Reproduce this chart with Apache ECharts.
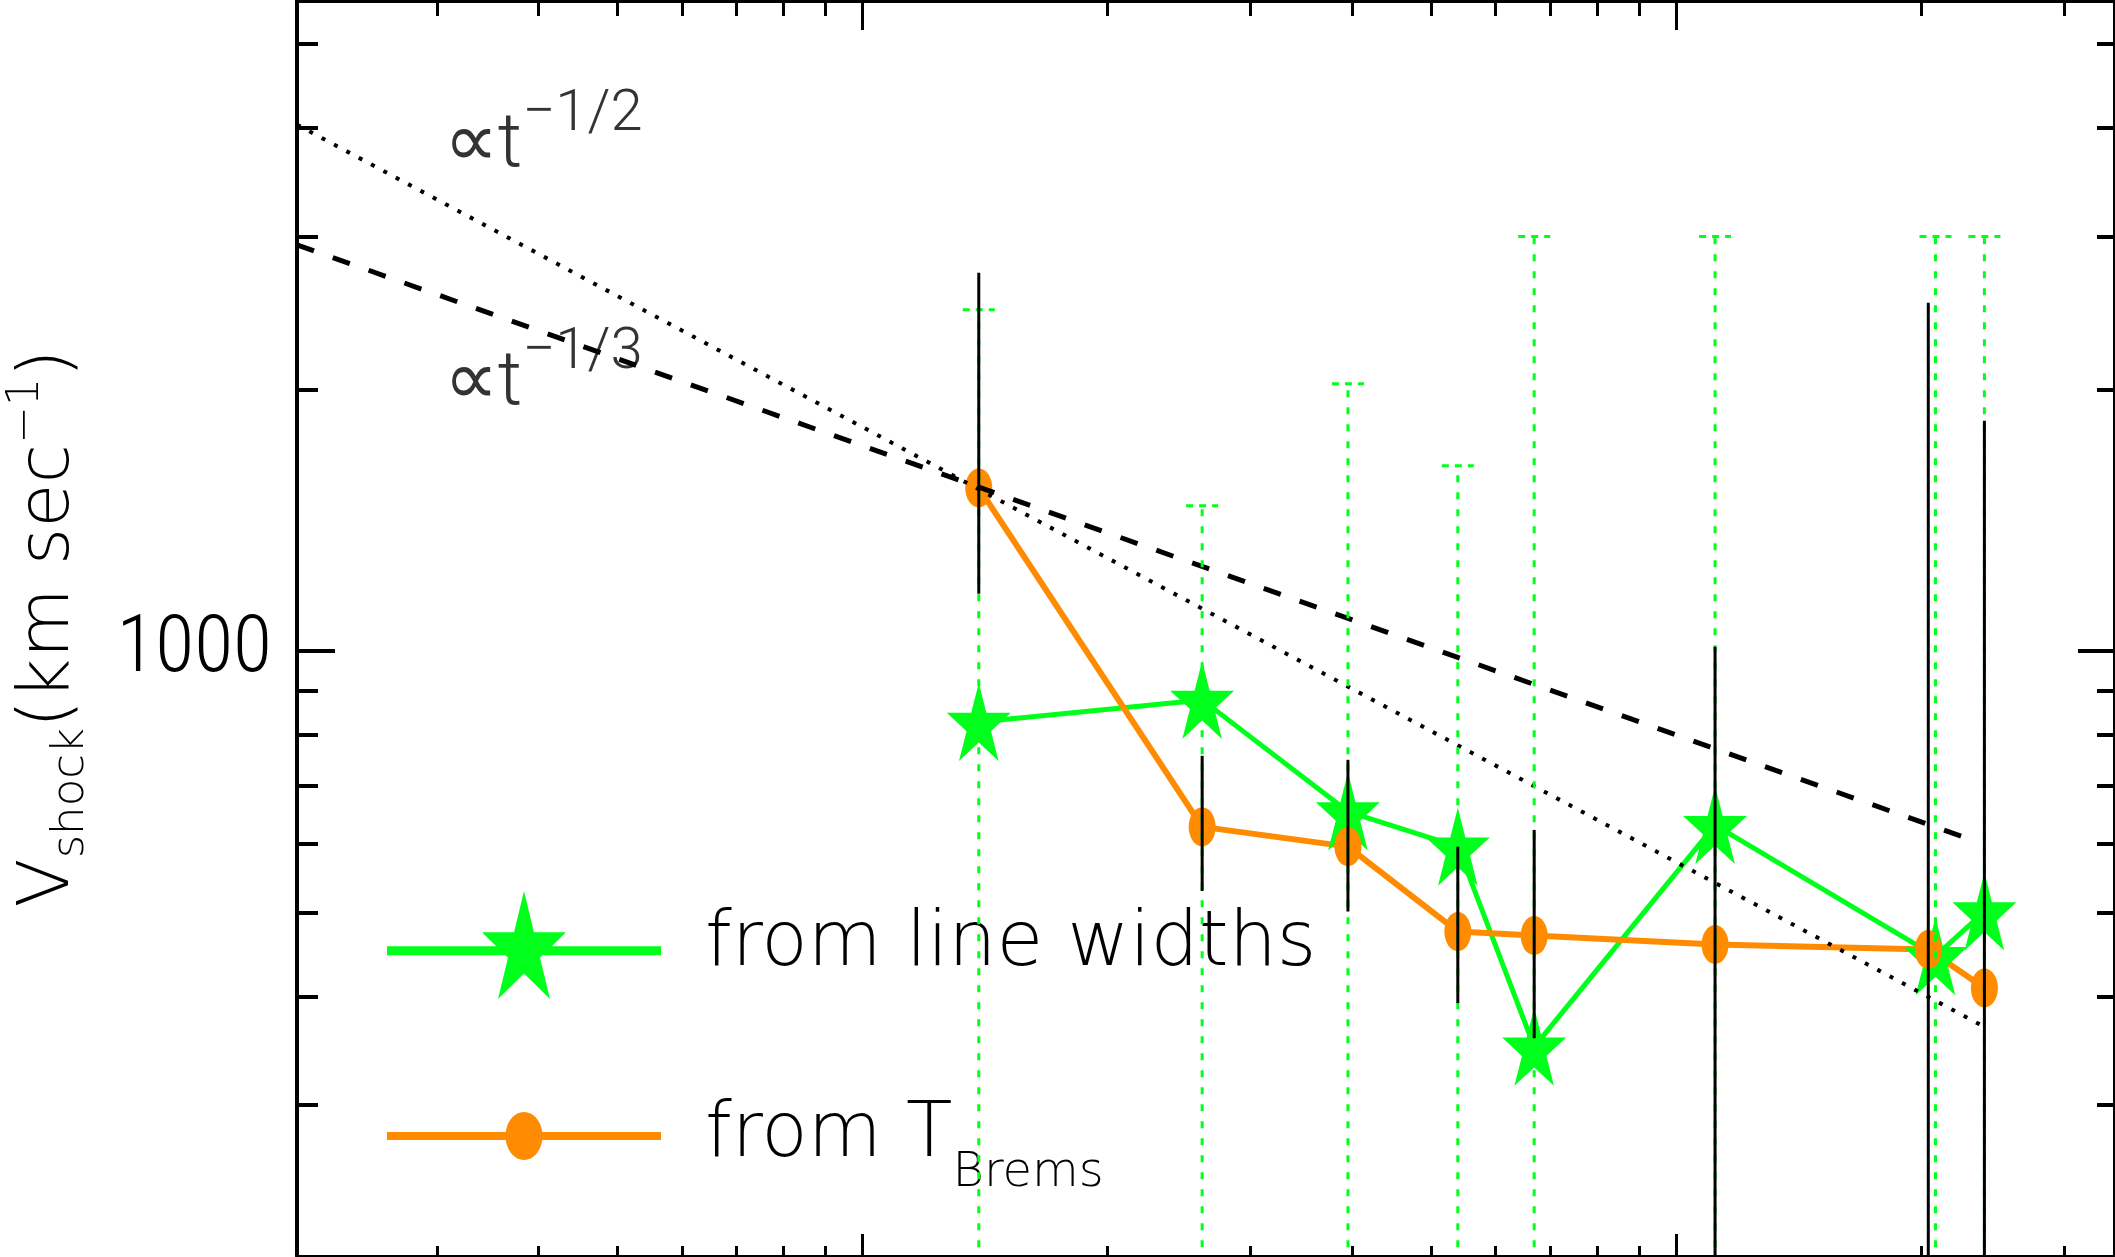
<!DOCTYPE html>
<html><head><meta charset="utf-8">
<script src="https://cdn.jsdelivr.net/npm/echarts@6/dist/echarts.min.js"></script>
<style>html,body{margin:0;padding:0;background:#fff}#c{width:2115px;height:1257px}</style>
</head><body><div id="c"></div>
<script>
// ---- data (time in days, velocity in km/s) ----
const tStar = [13.9, 26.15, 39.5, 53.9, 66.9, 111.6, 208.2, 239.1];
const vStar = [828, 878, 653, 595, 350, 630, 445, 501];
const starErrLow = [100, 100, 100, 100, 100, 100, 100, 100];
const starErrHigh = [2470, 1469, 2030, 1633, 3000, 3000, 3000, 3000];
const tBrems = [13.9, 26.15, 39.5, 53.9, 66.9, 111.6, 204.0, 239.1];
const vBrems = [1540, 627, 595, 475, 470, 459, 453, 409];
const bremsErrLow = [1163, 529, 501, 393, 358, 100, 100, 100];
const bremsErrHigh = [2724, 757, 749, 595, 622, 1011, 2516, 1840];
const halfPowerLine = [[2.02, 4034], [239.1, 369]];
const thirdPowerLine = [[2.02, 2934], [236, 601]];
const annotT = [3.06, 3.06];
const annotV = [3917, 2084];
const annotMain = ['∝t', '∝t'];
const annotSup = ['−1/2', '−1/3'];
const yMinorTicks = [300, 400, 500, 600, 700, 800, 900, 2000, 3000, 4000, 5000];
const yMajorTicks = [1000];
const yTickLabels = [1000];
const xMinorTicks = [3, 4, 5, 6, 7, 8, 9, 20, 30, 40, 50, 60, 70, 80, 90, 200, 300];
const xMajorTicks = [10, 100];
const seriesNames = ['from line widths', 'from TBrems'];

// ---- styles ----
const GREEN = '#00ff1a', ORANGE = '#ff8c00';
const THIN = "'DejaVu Sans', sans-serif";
const unitStar = [[0,-1],[0.2245,-0.309],[0.951,-0.309],[0.363,0.118],[0.588,0.809],[0,0.382],[-0.588,0.809],[-0.363,0.118],[-0.951,-0.309],[-0.2245,-0.309]];
function starPath(cx, cy, sx, sy) {
  return unitStar.map((p, i) => (i ? 'L' : 'M') + (cx + p[0]*sx).toFixed(2) + ',' + (cy + p[1]*sy).toFixed(2)).join('') + 'Z';
}
const starSymbol = 'path://' + starPath(0, 0, 100, 100);
const ellipseSymbol = 'path://M0,-100A100,100 0 1,1 0,100A100,100 0 1,1 0,-100Z';
const LW = 274;
const greenIcon = 'path://M0,55.2L' + LW + ',55.2L' + LW + ',64.2L0,64.2Z' + starPath(LW/2, 59.7, 44.16, 59.7);
const orangeIcon = 'path://M0,20L' + LW + ',20L' + LW + ',28L0,28Z' + 'M137,0A18.5,24 0 1,1 137,48A18.5,24 0 1,1 137,0Z';

function zip(a, b) { return a.map((v, i) => [v, b[i]]); }
function zip3(a, b, c) { return a.map((v, i) => [v, b[i], c[i]]); }

function errRender(color, width, dash, cap, capDash) {
  return function (params, api) {
    const t = api.value(0), lo = api.value(1), hi = api.value(2);
    const p1 = api.coord([t, lo]), p2 = api.coord([t, hi]);
    const ch = [{ type: 'line', shape: { x1: p1[0], y1: p1[1], x2: p2[0], y2: p2[1] },
      style: { stroke: color, lineWidth: width, lineDash: dash } }];
    if (cap) ch.push({ type: 'line', shape: { x1: p2[0] - cap, y1: p2[1], x2: p2[0] + cap, y2: p2[1] },
      style: { stroke: color, lineWidth: width, lineDash: capDash } });
    return { type: 'group', children: ch };
  };
}

function xAxisDef(pos, ticks, len, lineW, showLine) {
  return { type: 'log', position: pos, min: 2.02, max: 345, gridIndex: 0,
    axisLine: { show: showLine, lineStyle: { color: '#000', width: lineW } },
    axisTick: { show: true, inside: true, length: len, customValues: ticks, lineStyle: { color: '#000', width: 3 } },
    axisLabel: { show: false }, splitLine: { show: false }, minorTick: { show: false } };
}
function yAxisDef(pos, ticks, len, lineW, showLine) {
  return { type: 'log', position: pos, min: 201, max: 5600, gridIndex: 0,
    axisLine: { show: showLine, lineStyle: { color: '#000', width: lineW } },
    axisTick: { show: true, inside: true, length: len, customValues: ticks, lineStyle: { color: '#000', width: 4 } },
    axisLabel: { show: false }, splitLine: { show: false }, minorTick: { show: false } };
}
const yMain = yAxisDef('left', yMinorTicks, 21, 4, true);
yMain.axisLabel = { show: true, customValues: yTickLabels, margin: 25, color: '#000', fontSize: 80,
  fontFamily: "'Roboto Condensed', 'Liberation Sans', sans-serif", fontWeight: 300,
  formatter: v => String(Math.round(v)) };
yMain.name = '{m|V}{sub|shock}{m|(km sec}{sup|−1}{m|)}';
yMain.nameLocation = 'middle';
yMain.nameRotate = 90;
yMain.nameGap = 203;
yMain.nameTextStyle = { color: '#000', fontFamily: THIN, fontWeight: 200, fontSize: 72, verticalAlign: 'bottom',
  rich: { m: { fontSize: 72, lineHeight: 90, verticalAlign: 'middle', fontFamily: THIN, fontWeight: 200, color: '#000' },
          sub: { fontSize: 45, lineHeight: 45, verticalAlign: 'bottom', fontFamily: THIN, fontWeight: 200, color: '#000' },
          sup: { fontSize: 45, lineHeight: 45, verticalAlign: 'top', fontFamily: THIN, fontWeight: 200, color: '#000' } } };

const chart = echarts.init(document.getElementById('c'), null, { renderer: 'canvas' });
chart.setOption({
  animation: false,
  backgroundColor: '#fff',
  grid: { left: 297, right: 1, top: 1, bottom: 1, containLabel: false, outerBoundsMode: 'none' },
  xAxis: [
    xAxisDef('bottom', xMinorTicks, 10, 2, true),
    xAxisDef('bottom', xMajorTicks, 22, 2, false),
    xAxisDef('top', xMinorTicks, 15, 3, true),
    xAxisDef('top', xMajorTicks, 29, 3, false)
  ],
  yAxis: [
    yMain,
    yAxisDef('left', yMajorTicks, 38, 4, false),
    yAxisDef('right', yMinorTicks, 17, 2, true),
    yAxisDef('right', yMajorTicks, 36, 2, false)
  ],
  legend: {
    orient: 'vertical', left: 387, top: 891, padding: 0,
    itemWidth: LW, itemHeight: 108, itemGap: 99, symbolKeepAspect: true,
    itemStyle: { borderWidth: 0 },
    data: [{ name: seriesNames[0], icon: greenIcon }, { name: seriesNames[1], icon: orangeIcon }],
    formatter: n => n === seriesNames[1] ? '{n2|from T}{s|Brems}' : '{n|' + n + '}',
    textStyle: { color: '#000', fontFamily: THIN, fontWeight: 200, fontSize: 76, padding: [0, 0, 0, 39],
      rich: { n: { fontSize: 76, lineHeight: 100, fontFamily: THIN, fontWeight: 200, color: '#000' },
              n2: { fontSize: 76, lineHeight: 124, fontFamily: THIN, fontWeight: 200, color: '#000' },
              s: { fontSize: 48, lineHeight: 48, verticalAlign: 'bottom', fontFamily: THIN, fontWeight: 200, color: '#000' } } },
    selectedMode: false
  },
  series: [
    { name: seriesNames[0], type: 'line', data: zip(tStar, vStar), xAxisIndex: 0, yAxisIndex: 0,
      symbol: starSymbol, symbolSize: [64, 78], symbolKeepAspect: false, showAllSymbol: true,
      itemStyle: { color: GREEN, borderWidth: 0 }, lineStyle: { color: GREEN, width: 5 }, z: 2 },
    { name: seriesNames[1], type: 'line', data: zip(tBrems, vBrems), xAxisIndex: 0, yAxisIndex: 0,
      symbol: ellipseSymbol, symbolSize: [27, 39], showAllSymbol: true,
      itemStyle: { color: ORANGE, borderWidth: 0 }, lineStyle: { color: ORANGE, width: 6 }, z: 2 },
    { name: 'halfPower', type: 'line', data: halfPowerLine, symbol: 'none', silent: true,
      lineStyle: { color: '#000', width: 4, type: [4, 10] }, z: 3 },
    { name: 'thirdPower', type: 'line', data: thirdPowerLine, symbol: 'none', silent: true,
      lineStyle: { color: '#000', width: 5, type: [18, 20] }, z: 3 },
    { name: 'starErr', type: 'custom', data: zip3(tStar, starErrLow, starErrHigh), clip: true,
      renderItem: errRender(GREEN, 3, [7, 10], 16, [7, 6]), z: 4, silent: true },
    { name: 'bremsErr', type: 'custom', data: zip3(tBrems, bremsErrLow, bremsErrHigh), clip: true,
      renderItem: errRender('#000', 3, null, 0, null), z: 5, silent: true },
    { name: 'annot', type: 'scatter', data: annotT.map((t, i) => [t, annotV[i], annotMain[i], annotSup[i]]),
      symbolSize: 0, silent: true, z: 6,
      label: { show: true, position: 'right', distance: 0,
        formatter: p => '{m|' + p.value[2] + '}{p|' + p.value[3] + '}',
        rich: { m: { fontSize: 76, lineHeight: 98, verticalAlign: 'bottom', fontFamily: "Roboto, 'DejaVu Sans', sans-serif", fontWeight: 300, color: '#000' },
                p: { fontSize: 58, lineHeight: 58, verticalAlign: 'top', fontFamily: "Roboto, 'DejaVu Sans', sans-serif", fontWeight: 300, color: '#000' } } } }
  ]
});
</script></body></html>
